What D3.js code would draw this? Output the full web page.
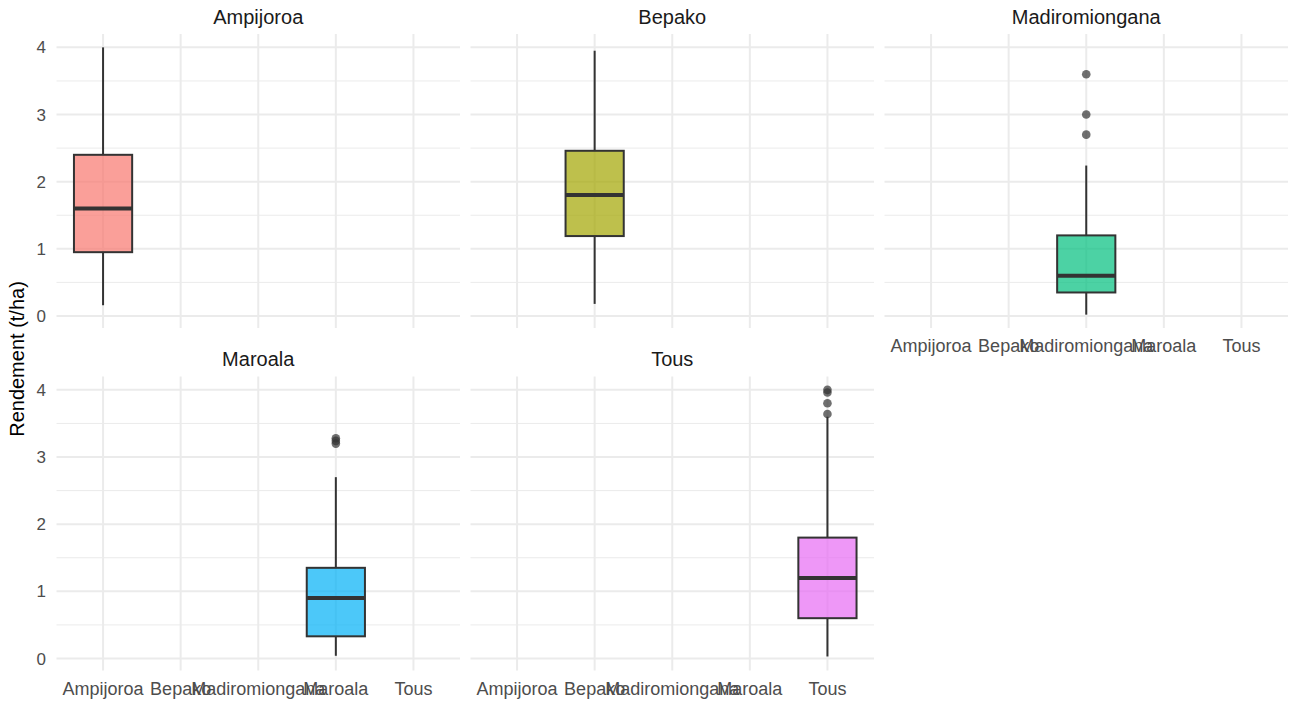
<!DOCTYPE html>
<html><head><meta charset="utf-8">
<script src="https://cdn.jsdelivr.net/npm/d3@7"></script>
<style>body{margin:0;background:#fff}svg{display:block}text{font-family:"Liberation Sans",Arial,sans-serif}</style>
</head><body><svg id="c" width="1289" height="704"></svg>
<script>
const categories = ["Ampijoroa","Bepako","Madiromiongana","Maroala","Tous"];
const colors = ["#F8766D","#A3A500","#00BF7D","#00B0F6","#E76BF3"];
const whiskerLow = [0.16, 0.18, 0.02, 0.04, 0.03];
const q1 = [0.95, 1.19, 0.35, 0.33, 0.60];
const median = [1.60, 1.80, 0.60, 0.90, 1.20];
const q3 = [2.40, 2.46, 1.20, 1.35, 1.80];
const whiskerHigh = [4.00, 3.95, 2.24, 2.70, 3.60];
const outliers = [[], [], [2.70, 3.00, 3.60], [3.20, 3.24, 3.28], [3.64, 3.80, 3.96, 4.00]];
const yTicks = [0,1,2,3,4];
const yMinor = [0.5,1.5,2.5,3.5];
const yTitle = "Rendement (t/ha)";

const svg = d3.select("#c");
const W = 403.5, H = 294;
const panelX = i => 56.5 + (i % 3) * 414;
const panelY = i => i < 3 ? 34 : 376.5;

const allVals = whiskerLow.concat(whiskerHigh, outliers.flat());
const lo = d3.min(allVals), hi = d3.max(allVals), pad = (hi - lo) * 0.05;
const y = d3.scaleLinear().domain([lo - pad, hi + pad]).range([H, 0]);
// discrete axis with 0.6 expansion on each side
const x = d3.scalePoint().domain(categories).range([0, W]).padding(0.6);
const step = x.step();
const boxW = step * 0.75;

categories.forEach((cat, i) => {
  const g = svg.append("g").attr("transform", `translate(${panelX(i)},${panelY(i)})`);
  g.selectAll(".ym").data(yMinor).enter().append("line")
    .attr("x1", 0).attr("x2", W).attr("y1", d => y(d)).attr("y2", d => y(d))
    .attr("stroke", "#EBEBEB").attr("stroke-width", 1);
  g.selectAll(".yM").data(yTicks).enter().append("line")
    .attr("x1", 0).attr("x2", W).attr("y1", d => y(d)).attr("y2", d => y(d))
    .attr("stroke", "#EBEBEB").attr("stroke-width", 2);
  g.selectAll(".xM").data(categories).enter().append("line")
    .attr("x1", d => x(d)).attr("x2", d => x(d)).attr("y1", 0).attr("y2", H)
    .attr("stroke", "#EBEBEB").attr("stroke-width", 2);
  g.append("text").attr("x", W / 2).attr("y", i < 3 ? -10 : -10.5)
    .attr("text-anchor", "middle").attr("font-size", 20).attr("fill", "#1A1A1A").text(cat);
  if (i % 3 === 0) {
    g.selectAll(".yl").data(yTicks).enter().append("text")
      .attr("x", -10.5).attr("y", d => y(d)).attr("dy", "0.36em")
      .attr("text-anchor", "end").attr("font-size", 17).attr("fill", "#4D4D4D").text(d => d);
  }
  if (i >= 2) {
    g.selectAll(".xl").data(categories).enter().append("text")
      .attr("x", d => x(d)).attr("y", H + 24)
      .attr("text-anchor", "middle").attr("font-size", 18).attr("fill", "#4D4D4D").text(d => d);
  }
  const cx = x(cat);
  g.append("line").attr("x1", cx).attr("x2", cx).attr("y1", y(q3[i])).attr("y2", y(whiskerHigh[i]))
    .attr("stroke", "#333333").attr("stroke-width", 2);
  g.append("line").attr("x1", cx).attr("x2", cx).attr("y1", y(q1[i])).attr("y2", y(whiskerLow[i]))
    .attr("stroke", "#333333").attr("stroke-width", 2);
  g.append("rect").attr("x", cx - boxW / 2).attr("width", boxW)
    .attr("y", y(q3[i])).attr("height", y(q1[i]) - y(q3[i]))
    .attr("fill", colors[i]).attr("fill-opacity", 0.7)
    .attr("stroke", "#333333").attr("stroke-width", 2);
  g.append("line").attr("x1", cx - boxW / 2).attr("x2", cx + boxW / 2)
    .attr("y1", y(median[i])).attr("y2", y(median[i]))
    .attr("stroke", "#333333").attr("stroke-width", 4);
  g.selectAll(".o").data(outliers[i]).enter().append("circle")
    .attr("cx", cx).attr("cy", d => y(d)).attr("r", 4.3)
    .attr("fill", "#333333").attr("fill-opacity", 0.7);
});

svg.append("text").attr("transform", "translate(24,359) rotate(-90)")
  .attr("text-anchor", "middle").attr("font-size", 20).attr("fill", "#000").text(yTitle);
</script></body></html>
